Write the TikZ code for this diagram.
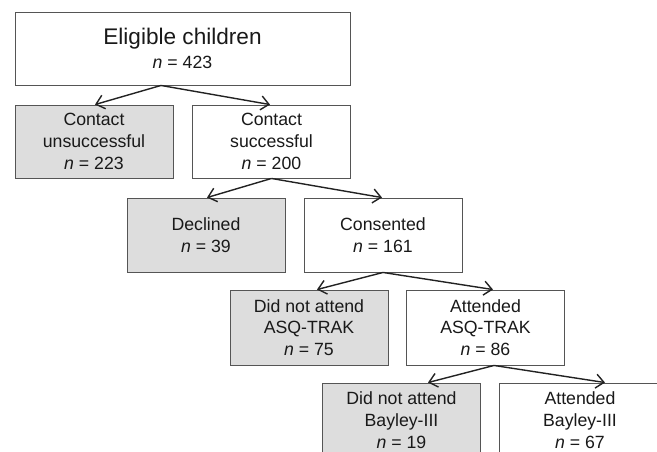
\documentclass[tikz,border=0pt]{standalone}
\usepackage{fontspec}
\setmainfont{Liberation Sans}
\usetikzlibrary{arrows.meta}
\definecolor{boxline}{HTML}{555555}
\definecolor{shade}{HTML}{DDDDDD}
\definecolor{flowline}{HTML}{222222}
\newcommand{\boxfont}{\fontsize{17.7}{21.7}\selectfont}
\newcommand{\titlefont}{\fontsize{22.6}{23}\selectfont}

\begin{document}
\begin{tikzpicture}[x=1pt, y=-1pt,
  stage/.style={rectangle, draw=boxline, line width=0.9pt, fill=white, align=center,
    minimum width=158pt, minimum height=74pt, inner sep=0pt, font=\boxfont, text=black!90},
  dropout/.style={stage, fill=shade},
  flow/.style={-{Straight Barb[length=8pt, width=14pt]}, line width=1.4pt, flowline}]
  \useasboundingbox (0,0) rectangle (657,451);

  % Top: eligible
  \node[stage, minimum width=335pt, minimum height=73pt, font=\titlefont] (eligible) at (182.5,48.5)
    {Eligible children\\[1pt]{\boxfont\textit{n} = 423}};

  % Contact
  \node[dropout, minimum height=73pt] (unsuccessful) at (94,141.5) {Contact\\unsuccessful\\\textit{n} = 223};
  \node[stage, minimum height=73pt] (successful) at (271.5,141.5) {Contact\\successful\\\textit{n} = 200};

  % Consent
  \node[dropout] (declined) at (206,235) {Declined\\\textit{n} = 39};
  \node[stage] (consented) at (383,235) {Consented\\\textit{n} = 161};

  % ASQ-TRAK
  \node[dropout, minimum height=75pt] (noasq) at (309,327.5) {Did not attend\\ASQ-TRAK\\\textit{n} = 75};
  \node[stage, minimum height=75pt] (asq) at (485.5,327.5) {Attended\\ASQ-TRAK\\\textit{n} = 86};

  % Bayley-III
  \node[dropout] (nobayley) at (401.5,420) {Did not attend\\Bayley-III\\\textit{n} = 19};
  \node[stage, minimum width=162pt] (bayley) at (580,420) {Attended\\Bayley-III\\\textit{n} = 67};

  % Arrows
  \draw[flow] ([xshift=-21.5pt]eligible.south) -- ([xshift=1pt]unsuccessful.north);
  \draw[flow] ([xshift=-21.5pt]eligible.south) -- ([xshift=-1.5pt]successful.north);
  \draw[flow] (successful.south) -- ([xshift=1pt]declined.north);
  \draw[flow] (successful.south) -- ([xshift=-1pt]consented.north);
  \draw[flow] (consented.south) -- ([xshift=8pt]noasq.north);
  \draw[flow] (consented.south) -- ([xshift=7.5pt]asq.north);
  \draw[flow] ([xshift=8.5pt]asq.south) -- ([xshift=26.5pt]nobayley.north);
  \draw[flow] ([xshift=8.5pt]asq.south) -- ([xshift=25pt]bayley.north);

\end{tikzpicture}
\end{document}
